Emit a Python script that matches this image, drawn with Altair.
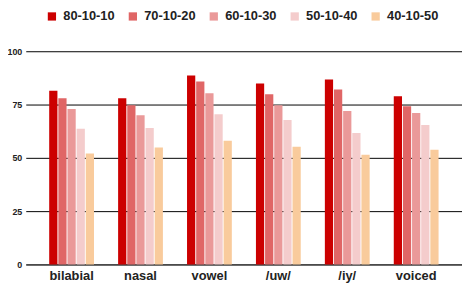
import altair as alt
import pandas as pd

categories = ["bilabial", "nasal", "vowel", "/uw/", "/iy/", "voiced"]
series = ["80-10-10", "70-10-20", "60-10-30", "50-10-40", "40-10-50"]
colors = ["#cc0000", "#e06666", "#ea9999", "#f4cccc", "#f9cb9c"]

v_80_10_10 = [81.5, 78.0, 88.6, 84.9, 86.8, 78.9]
v_70_10_20 = [78.0, 74.7, 85.8, 79.8, 82.1, 74.2]
v_60_10_30 = [72.9, 70.0, 80.3, 74.7, 72.0, 71.0]
v_50_10_40 = [63.6, 64.0, 70.5, 67.7, 61.7, 65.4]
v_40_10_50 = [52.0, 54.8, 58.0, 55.2, 51.5, 53.8]

y_ticks = [0, 25, 50, 75, 100]

rows = []
for s, vals in zip(series, [v_80_10_10, v_70_10_20, v_60_10_30, v_50_10_40, v_40_10_50]):
    for c, v in zip(categories, vals):
        rows.append({"category": c, "series": s, "value": v})
df = pd.DataFrame(rows)

chart = alt.Chart(df).mark_bar().encode(
    x=alt.X("category:N", sort=categories, title=None,
            scale=alt.Scale(paddingInner=0.35, paddingOuter=0.34),
            axis=alt.Axis(labelAngle=0, labelFont="Liberation Sans", labelFontWeight="bold",
                          labelFontSize=13, labelColor="#222222", ticks=False,
                          domainColor="#333333", labelPadding=5)),
    xOffset=alt.XOffset("series:N", sort=series, scale=alt.Scale(paddingInner=0.1)),
    y=alt.Y("value:Q", title=None,
            scale=alt.Scale(domain=[0, 100], nice=False),
            axis=alt.Axis(values=y_ticks, labelFont="Liberation Sans", labelFontWeight="bold",
                          labelFontSize=9, labelColor="#222222", ticks=False, domain=False,
                          gridColor="#000000", gridOpacity=1, labelPadding=4)),
    color=alt.Color("series:N", sort=series,
                    scale=alt.Scale(domain=series, range=colors),
                    legend=alt.Legend(title=None, orient="none", direction="horizontal",
                                      legendX=20, legendY=-42, symbolType="square",
                                      symbolSize=70, symbolStrokeWidth=0,
                                      labelFont="Liberation Sans", labelFontWeight="bold",
                                      labelFontSize=13, labelColor="#222222",
                                      columnPadding=11, labelOffset=5)),
).properties(
    width=442, height=216,
    autosize=alt.AutoSizeParams(type="none"),
    padding={"left": 18, "top": 42, "right": 0, "bottom": 18},
).configure_view(stroke=None)

chart.save("out.html", embed_options={"renderer": "svg", "actions": False})
